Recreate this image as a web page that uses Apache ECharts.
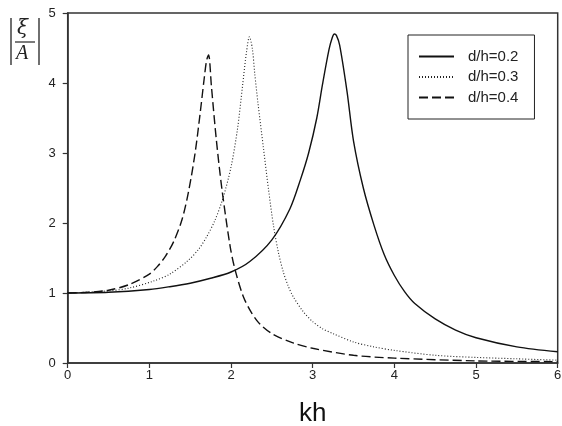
<!DOCTYPE html>
<html>
<head>
<meta charset="utf-8">
<script src="https://cdn.jsdelivr.net/npm/echarts@6/dist/echarts.min.js"></script>
<style>
html,body{margin:0;padding:0;background:#fff;}
#chart{width:562px;height:426px;}
</style>
</head>
<body>
<div id="chart"></div>
<script>
// Series names
var seriesNames = ['d/h=0.2', 'd/h=0.3', 'd/h=0.4'];

// d/h = 0.2 (solid)
var kh02  = [0, 0.5, 1.0, 1.25, 1.5, 1.75, 2.0, 2.23, 2.5, 2.72, 2.85, 2.95, 3.05, 3.12, 3.2, 3.24, 3.265, 3.29, 3.33, 3.42, 3.5, 3.62, 3.75, 3.875, 4.0, 4.125, 4.25, 4.5, 4.75, 5.0, 5.5, 6.0];
var val02 = [1.0, 1.01, 1.05, 1.09, 1.14, 1.21, 1.30, 1.45, 1.76, 2.20, 2.62, 3.00, 3.50, 3.98, 4.48, 4.65, 4.70, 4.68, 4.54, 3.88, 3.17, 2.50, 1.97, 1.55, 1.25, 1.02, 0.85, 0.63, 0.47, 0.36, 0.23, 0.16];

// d/h = 0.3 (dotted)
var kh03  = [0, 0.5, 0.75, 1.05, 1.25, 1.46, 1.6, 1.7, 1.8, 1.9, 2.0, 2.08, 2.14, 2.19, 2.225, 2.26, 2.29, 2.33, 2.4, 2.46, 2.52, 2.58, 2.64, 2.7, 2.76, 2.88, 3.0, 3.12, 3.25, 3.5, 3.75, 4.0, 4.5, 5.0, 5.5, 6.0];
var val03 = [1.0, 1.03, 1.07, 1.17, 1.27, 1.45, 1.62, 1.80, 2.03, 2.35, 2.80, 3.35, 3.95, 4.45, 4.66, 4.50, 4.14, 3.71, 3.04, 2.47, 1.96, 1.58, 1.30, 1.10, 0.95, 0.74, 0.59, 0.49, 0.42, 0.30, 0.23, 0.18, 0.11, 0.08, 0.06, 0.04];

// d/h = 0.4 (dashed)
var kh04  = [0, 0.25, 0.5, 0.75, 1.0, 1.1, 1.2, 1.3, 1.4, 1.48, 1.56, 1.62, 1.67, 1.70, 1.725, 1.76, 1.82, 1.89, 1.99, 2.05, 2.15, 2.25, 2.35, 2.5, 2.75, 3.0, 3.5, 4.0, 5.0, 6.0];
var val04 = [1.0, 1.01, 1.04, 1.12, 1.27, 1.38, 1.53, 1.74, 2.05, 2.45, 3.00, 3.55, 4.05, 4.32, 4.40, 3.95, 3.19, 2.47, 1.66, 1.33, 0.95, 0.72, 0.56, 0.42, 0.29, 0.21, 0.11, 0.07, 0.03, 0.02];

// Axis ticks
var xTicks = [0, 1, 2, 3, 4, 5, 6];
var yTicks = [0, 1, 2, 3, 4, 5];

function pairs(xs, ys) {
  var out = [];
  for (var i = 0; i < xs.length; i++) out.push([xs[i], ys[i]]);
  return out;
}

var chart = echarts.init(document.getElementById('chart'), null, {renderer: 'canvas'});
var FONT = 'Liberation Sans, Arial, sans-serif';
var axisColor = '#333';

var option = {
  backgroundColor: '#fff',
  animation: false,
  grid: {
    left: 67.7, right: 4.3, top: 13, bottom: 63,
    outerBoundsMode: 'none', containLabel: false,
    show: true, borderColor: axisColor, borderWidth: 1.5, backgroundColor: 'transparent'
  },
  xAxis: {
    type: 'value', min: xTicks[0], max: xTicks[xTicks.length - 1], interval: 1,
    name: 'kh', nameLocation: 'middle', nameGap: 38,
    nameTextStyle: {fontFamily: FONT, fontSize: 26, color: '#111'},
    axisLine: {show: true, lineStyle: {color: axisColor, width: 1.5}},
    axisTick: {show: true, inside: false, length: 5, lineStyle: {color: axisColor, width: 1.2}},
    axisLabel: {margin: 6, fontFamily: FONT, fontSize: 13, color: '#222'},
    splitLine: {show: false}
  },
  yAxis: {
    type: 'value', min: yTicks[0], max: yTicks[yTicks.length - 1], interval: 1,
    axisLine: {show: true, lineStyle: {color: axisColor, width: 1.5}},
    axisTick: {show: true, inside: false, length: 5, lineStyle: {color: axisColor, width: 1.2}},
    axisLabel: {margin: 12, fontFamily: FONT, fontSize: 13, color: '#222'},
    splitLine: {show: false}
  },
  legend: {
    orient: 'vertical', left: 408, top: 35,
    padding: [14, 16, 14, 10],
    itemWidth: 35, itemHeight: 14, itemGap: 5.5,
    borderColor: '#222', borderWidth: 1, backgroundColor: '#fff',
    itemStyle: {opacity: 0, color: 'transparent', borderWidth: 0},
    textStyle: {fontFamily: FONT, fontSize: 15, color: '#222', padding: [0, 0, 0, 9]},
    data: seriesNames
  },
  series: [
    {
      name: seriesNames[0], type: 'line', data: pairs(kh02, val02), smooth: 0.3,
      showSymbol: false, symbol: 'none',
      lineStyle: {color: '#111', width: 1.4, type: 'solid'}, itemStyle: {color: '#111'}
    },
    {
      name: seriesNames[1], type: 'line', data: pairs(kh03, val03), smooth: 0.3,
      showSymbol: false, symbol: 'none',
      lineStyle: {color: '#222', width: 1.1, type: [1, 2]}, itemStyle: {color: '#222'}
    },
    {
      name: seriesNames[2], type: 'line', data: pairs(kh04, val04), smooth: 0.3,
      showSymbol: false, symbol: 'none',
      lineStyle: {color: '#111', width: 1.4, type: [9, 4]}, itemStyle: {color: '#111'}
    }
  ],
  graphic: [
    {type: 'line', shape: {x1: 11, y1: 18, x2: 11, y2: 65}, style: {stroke: '#222', lineWidth: 1.3}},
    {type: 'line', shape: {x1: 39, y1: 18, x2: 39, y2: 65}, style: {stroke: '#222', lineWidth: 1.3}},
    {type: 'line', shape: {x1: 15, y1: 42, x2: 35, y2: 42}, style: {stroke: '#222', lineWidth: 1.2}},
    {type: 'text', left: 17, top: 19, style: {text: 'ξ', font: 'italic 20px "DejaVu Serif", "Liberation Serif", serif', fill: '#222'}},
    {type: 'text', left: 16, top: 44, style: {text: 'A', font: 'italic 20px "Liberation Serif", serif', fill: '#222'}}
  ]
};
chart.setOption(option);
</script>
</body>
</html>
